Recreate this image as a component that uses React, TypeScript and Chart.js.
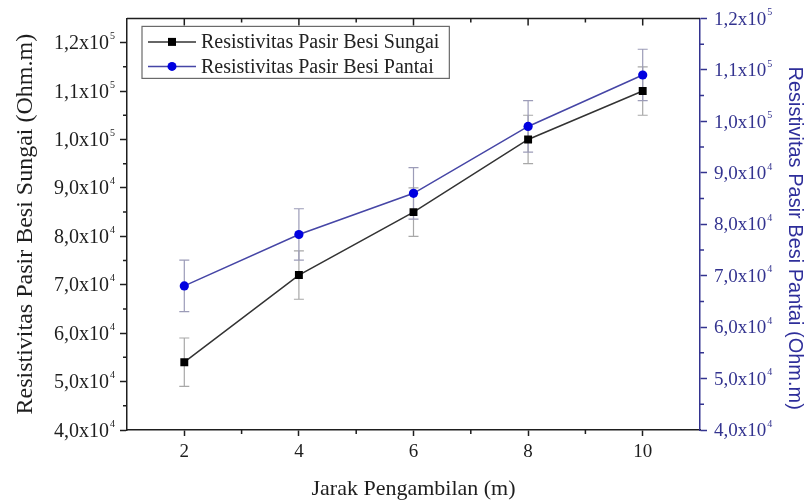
import React, { useEffect, useRef } from "react";
import { Chart, registerables } from "chart.js";

Chart.register(...registerables);

// ---- data ----
const distances = [2, 4, 6, 8, 10];
const sungaiValues = [54000, 72000, 85000, 100000, 110000];
const sungaiErrors = [5000, 5000, 5000, 5000, 5000];
const pantaiValues = [68000, 78000, 86000, 99000, 109000];
const pantaiErrors = [5000, 5000, 5000, 5000, 5000];

const seriesLabels = ["Resistivitas Pasir Besi Sungai", "Resistivitas Pasir Besi Pantai"];
const xTitle = "Jarak Pengambilan (m)";
const yLeftTitle = "Resistivitas Pasir Besi Sungai (Ohm.m)";
const yRightTitle = "Resistivitas Pasir Besi Pantai (Ohm.m)";

const xTicks = [2, 4, 6, 8, 10];
const xMinorTicks = [3, 5, 7, 9];
const yTicks = [40000, 50000, 60000, 70000, 80000, 90000, 100000, 110000, 120000];
const yMinorTicks = [45000, 55000, 65000, 75000, 85000, 95000, 105000, 115000];

const BLACK = "#1e1e1e";
const BLUE_AXIS = "#33338f";
const BLUE_LINE = "#4646a6";
const BLUE_MARK = "#0000e0";
const SERIF = "'Liberation Serif', 'Times New Roman', serif";
const SANS = "'Liberation Sans', Arial, sans-serif";

function sciParts(v: number): [string, string] {
  const e = Math.floor(Math.log10(v) + 1e-9);
  const m = v / Math.pow(10, e);
  return [`${m.toFixed(1).replace(".", ",")}x10`, String(e)];
}

function drawSciLabel(ctx: any, v: number, x: number, y: number, align: "left" | "right", size: number, color: string) {
  const [base, exp] = sciParts(v);
  ctx.font = `${size}px ${SERIF}`;
  const bw = ctx.measureText(base).width;
  const supSize = Math.round(size * 0.5);
  ctx.font = `${supSize}px ${SERIF}`;
  const sw = ctx.measureText(exp).width;
  const total = bw + sw + 1;
  const sx = align === "right" ? x - total : x;
  ctx.fillStyle = color;
  ctx.textAlign = "left";
  ctx.textBaseline = "alphabetic";
  const baseY = y + size * 0.33;
  ctx.font = `${size}px ${SERIF}`;
  ctx.fillText(base, sx, baseY);
  ctx.font = `${supSize}px ${SERIF}`;
  ctx.fillText(exp, sx + bw + 1, baseY - size * 0.5);
}

const decorPlugin = {
  id: "decor",
  beforeDatasetsDraw(chart: any) {
    const ctx = chart.ctx;
    const xScale = chart.scales.x;
    chart.data.datasets.forEach((ds: any) => {
      const yScale = chart.scales[ds.yAxisID];
      ctx.save();
      ctx.strokeStyle = ds.errorColor;
      ctx.lineWidth = 1.2;
      ds.data.forEach((pt: any, i: number) => {
        const err = ds.errors[i];
        const x = xScale.getPixelForValue(pt.x);
        const yT = yScale.getPixelForValue(pt.y + err);
        const yB = yScale.getPixelForValue(pt.y - err);
        ctx.beginPath();
        ctx.moveTo(x, yT);
        ctx.lineTo(x, yB);
        ctx.moveTo(x - 5, yT);
        ctx.lineTo(x + 5, yT);
        ctx.moveTo(x - 5, yB);
        ctx.lineTo(x + 5, yB);
        ctx.stroke();
      });
      ctx.restore();
    });
  },
  afterDraw(chart: any) {
    const ctx = chart.ctx;
    const { left, right, top, bottom } = chart.chartArea;
    const xScale = chart.scales.x;
    const yL = chart.scales.y;
    const yR = chart.scales.y1;
    ctx.save();
    // top border
    ctx.strokeStyle = BLACK;
    ctx.lineWidth = 1.5;
    ctx.beginPath();
    ctx.moveTo(left, top);
    ctx.lineTo(right, top);
    ctx.stroke();
    // top ticks (inward) and minor ticks
    ctx.beginPath();
    xTicks.forEach((v) => {
      const x = xScale.getPixelForValue(v);
      ctx.moveTo(x, top);
      ctx.lineTo(x, top + 7);
    });
    xMinorTicks.forEach((v) => {
      const x = xScale.getPixelForValue(v);
      ctx.moveTo(x, top);
      ctx.lineTo(x, top + 4);
      ctx.moveTo(x, bottom);
      ctx.lineTo(x, bottom + 4);
    });
    yMinorTicks.forEach((v) => {
      const y = yL.getPixelForValue(v);
      ctx.moveTo(left, y);
      ctx.lineTo(left - 4, y);
    });
    ctx.stroke();
    ctx.strokeStyle = BLUE_AXIS;
    ctx.beginPath();
    yMinorTicks.forEach((v) => {
      const y = yR.getPixelForValue(v);
      ctx.moveTo(right, y);
      ctx.lineTo(right + 4, y);
    });
    ctx.stroke();

    // y tick labels with superscript exponents
    yTicks.forEach((v) => {
      drawSciLabel(ctx, v, left - 12, yL.getPixelForValue(v), "right", 20, BLACK);
      drawSciLabel(ctx, v, right + 14, yR.getPixelForValue(v), "left", 19, BLUE_AXIS);
    });

    // right axis title (rotated, reading top to bottom)
    ctx.save();
    ctx.translate(yR.right - 12, (top + bottom) / 2 + 14);
    ctx.rotate(Math.PI / 2);
    ctx.font = `20px ${SANS}`;
    ctx.fillStyle = "#2e2e9a";
    ctx.textAlign = "center";
    ctx.textBaseline = "middle";
    ctx.fillText(yRightTitle, 0, 0);
    ctx.restore();

    // legend
    const lx = left + 15;
    const ly = top + 8;
    ctx.font = `20px ${SERIF}`;
    const textX = lx + 59;
    const maxW = Math.max(...seriesLabels.map((s) => ctx.measureText(s).width));
    const lw = textX - lx + maxW + 10;
    const lh = 52;
    ctx.fillStyle = "#ffffff";
    ctx.fillRect(lx, ly, lw, lh);
    ctx.strokeStyle = "#6a6a6a";
    ctx.lineWidth = 1.2;
    ctx.strokeRect(lx, ly, lw, lh);
    const rows = [ly + 15.5, ly + 40];
    chart.data.datasets.forEach((ds: any, i: number) => {
      const ry = rows[i];
      ctx.strokeStyle = ds.borderColor;
      ctx.lineWidth = 1.5;
      ctx.beginPath();
      ctx.moveTo(lx + 6, ry);
      ctx.lineTo(lx + 54, ry);
      ctx.stroke();
      ctx.fillStyle = ds.pointBackgroundColor;
      const mx = lx + 30;
      if (ds.pointStyle === "rect") {
        ctx.fillRect(mx - 4, ry - 4, 8, 8);
      } else {
        ctx.beginPath();
        ctx.arc(mx, ry, 4.5, 0, Math.PI * 2);
        ctx.fill();
      }
      ctx.font = `20px ${SERIF}`;
      ctx.fillStyle = "#222";
      ctx.textBaseline = "middle";
      ctx.textAlign = "left";
      ctx.fillText(ds.label, textX, ry + 1);
    });
    ctx.restore();
  },
};

export default function App() {
  const canvasRef = useRef<HTMLCanvasElement | null>(null);

  useEffect(() => {
    document.body.style.margin = "0";
    const canvas = canvasRef.current;
    if (!canvas) return;
    const chart = new Chart(canvas, {
      type: "line",
      data: {
        datasets: [
          {
            label: seriesLabels[0],
            data: distances.map((x, i) => ({ x, y: sungaiValues[i] })),
            yAxisID: "y",
            borderColor: "#333333",
            borderWidth: 1.5,
            pointStyle: "rect",
            pointRadius: 5.6,
            pointBackgroundColor: "#000000",
            pointBorderColor: "#000000",
            pointBorderWidth: 0,
            errors: sungaiErrors,
            errorColor: "#a8a8a8",
          } as any,
          {
            label: seriesLabels[1],
            data: distances.map((x, i) => ({ x, y: pantaiValues[i] })),
            yAxisID: "y1",
            borderColor: BLUE_LINE,
            borderWidth: 1.5,
            pointStyle: "circle",
            pointRadius: 4.6,
            pointBackgroundColor: BLUE_MARK,
            pointBorderColor: BLUE_MARK,
            pointBorderWidth: 0,
            errors: pantaiErrors,
            errorColor: "#9c9cb8",
          } as any,
        ],
      },
      options: {
        responsive: false,
        animation: false,
        layout: { padding: { top: 16, left: 0, right: 0, bottom: 0 } },
        plugins: {
          legend: { display: false },
          tooltip: { enabled: false },
        },
        scales: {
          x: {
            type: "linear",
            position: "bottom",
            min: 1,
            max: 11,
            afterBuildTicks: (s: any) => {
              s.ticks = xTicks.map((v) => ({ value: v }));
            },
            afterFit: (s: any) => {
              s.height = 70;
            },
            ticks: {
              autoSkip: false,
              maxRotation: 0,
              color: BLACK,
              padding: 5,
              font: { family: SERIF, size: 19 },
            },
            grid: { drawOnChartArea: false, tickLength: 6, tickColor: BLACK, tickWidth: 1.5 },
            border: { color: BLACK, width: 1.5 },
            title: {
              display: true,
              text: xTitle,
              color: BLACK,
              font: { family: SERIF, size: 22, lineHeight: 1 },
              padding: { top: 0, bottom: 0 },
            },
          },
          y: {
            type: "linear",
            position: "left",
            min: 40000,
            max: 125000,
            afterBuildTicks: (s: any) => {
              s.ticks = yTicks.map((v) => ({ value: v }));
            },
            afterFit: (s: any) => {
              s.width = 127;
            },
            ticks: {
              color: "rgba(0,0,0,0)",
              padding: 5,
              font: { family: SERIF, size: 19 },
              callback: (v: any) => {
                const [b, e] = sciParts(Number(v));
                return b + e;
              },
            },
            grid: { drawOnChartArea: false, tickLength: 7, tickColor: BLACK, tickWidth: 1.5 },
            border: { color: BLACK, width: 1.5 },
            title: {
              display: true,
              text: yLeftTitle,
              color: BLACK,
              font: { family: SERIF, size: 24, lineHeight: 1.2 },
              padding: { top: 11, bottom: 0 },
            },
          },
          y1: {
            type: "linear",
            position: "right",
            min: 40000,
            max: 120000,
            afterBuildTicks: (s: any) => {
              s.ticks = yTicks.map((v) => ({ value: v }));
            },
            afterFit: (s: any) => {
              s.width = 107;
            },
            ticks: {
              color: "rgba(0,0,0,0)",
              padding: 7,
              font: { family: SERIF, size: 19 },
              callback: (v: any) => {
                const [b, e] = sciParts(Number(v));
                return b + e;
              },
            },
            grid: { drawOnChartArea: false, tickLength: 7, tickColor: BLUE_AXIS, tickWidth: 1.5 },
            border: { color: BLUE_AXIS, width: 1.5 },
            title: { display: false },
          },
        },
      } as any,
      plugins: [decorPlugin],
    });
    return () => chart.destroy();
  }, []);

  return (
    <div style={{ width: 807, height: 500, background: "#ffffff" }}>
      <canvas ref={canvasRef} width={807} height={500} style={{ display: "block" }} />
    </div>
  );
}
